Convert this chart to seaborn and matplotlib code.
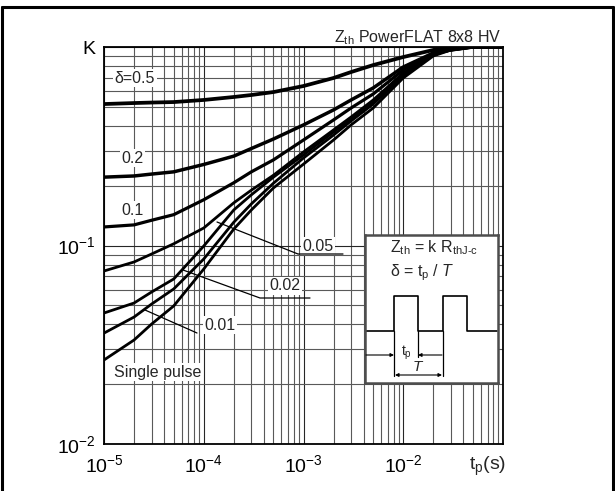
import numpy as np
import pandas as pd
import matplotlib.pyplot as plt
import matplotlib.ticker as mticker
from matplotlib.lines import Line2D
import seaborn as sns

# Thermal impedance curves (K vs pulse duration)
tp = [1e-5, 2e-5, 3e-5, 5e-5, 1e-4, 2e-4, 3e-4, 5e-4, 1e-3, 2e-3, 3e-3, 5e-3,
      1e-2, 2e-2, 3e-2, 5e-2, 1e-1]
k_05 = [0.516, 0.522, 0.525, 0.528, 0.541, 0.560, 0.573, 0.593, 0.636, 0.698, 0.748, 0.811,
        0.890, 0.966, 0.990, 1.0, 1.0]
k_02 = [0.221, 0.224, 0.229, 0.235, 0.256, 0.282, 0.308, 0.344, 0.405, 0.482, 0.541, 0.622,
        0.793, 0.933, 0.966, 1.0, 1.0]
k_01 = [0.124, 0.127, 0.134, 0.143, 0.170, 0.207, 0.235, 0.270, 0.340, 0.429, 0.493, 0.580,
        0.766, 0.933, 0.966, 1.0, 1.0]
k_005 = [0.0744, 0.0826, 0.0906, 0.102, 0.1225, 0.164, 0.190, 0.226, 0.296, 0.382, 0.444, 0.541,
         0.740, 0.922, 0.977, 1.0, 1.0]
k_002 = [0.0457, 0.0513, 0.0583, 0.0678, 0.0994, 0.151, 0.180, 0.221, 0.286, 0.373, 0.434, 0.529,
         0.731, 0.922, 0.971, 1.0, 1.0]
k_001 = [0.0362, 0.0436, 0.0507, 0.0604, 0.0855, 0.131, 0.162, 0.206, 0.276, 0.360, 0.424, 0.516,
         0.714, 0.912, 0.966, 1.0, 1.0]
k_single = [0.0265, 0.0334, 0.0402, 0.0496, 0.0761, 0.121, 0.151, 0.195, 0.257, 0.340, 0.405, 0.493,
            0.698, 0.901, 0.966, 1.0, 1.0]

curves = {
    '0.5': (k_05, 2.7),
    '0.2': (k_02, 2.5),
    '0.1': (k_01, 2.3),
    '0.05': (k_005, 2.0),
    '0.02': (k_002, 2.0),
    '0.01': (k_001, 2.0),
    'single': (k_single, 2.0),
}

sns.set_theme(style='white')
plt.rcParams['font.family'] = ['Liberation Sans', 'DejaVu Sans']
plt.rcParams['mathtext.fontset'] = 'custom'
plt.rcParams['mathtext.rm'] = 'Liberation Sans'
plt.rcParams['mathtext.it'] = 'Liberation Sans:italic'
plt.rcParams['mathtext.bf'] = 'Liberation Sans:bold'

W, H = 615, 491
fig = plt.figure(figsize=(W / 100, H / 100), dpi=100)
ax = fig.add_axes([104 / W, 1 - 444 / H, 399 / W, 397 / H])

for name, (vals, lw) in curves.items():
    df = pd.DataFrame({'t': tp, 'K': vals})
    sns.lineplot(data=df, x='t', y='K', ax=ax, color='black', linewidth=lw)

ax.set_xscale('log')
ax.set_yscale('log')
ax.set_xlim(1e-5, 1e-1)
ax.set_ylim(1e-2, 1)

ax.xaxis.set_minor_locator(mticker.LogLocator(base=10, subs=np.arange(2, 10)))
ax.yaxis.set_minor_locator(mticker.LogLocator(base=10, subs=np.arange(2, 10)))
ax.xaxis.set_minor_formatter(mticker.NullFormatter())
ax.yaxis.set_minor_formatter(mticker.NullFormatter())
ax.grid(True, which='major', color='0.15', linewidth=0.8)
ax.grid(True, which='minor', color='0.35', linewidth=0.8)
ax.set_axisbelow(True)

ax.set_xticks([1e-5, 1e-4, 1e-3, 1e-2])
ax.set_xticklabels([r'$10^{-5}$', r'$10^{-4}$', r'$10^{-3}$', r'$10^{-2}$'])
ax.set_yticks([1e-2, 1e-1, 1])
ax.set_yticklabels([r'$10^{-2}$', r'$10^{-1}$', 'K'])
ax.tick_params(axis='both', which='both', length=0, labelsize=14, colors='black')
ax.tick_params(axis='x', pad=7)
ax.tick_params(axis='y', pad=6)
ax.set_xlabel('')
ax.set_ylabel('')
for sp in ax.spines.values():
    sp.set_color('black')
    sp.set_linewidth(1.3)


def fx(px):
    return (px - 104) / 399


def fy(py):
    return (444 - py) / 397


box = dict(facecolor='white', edgecolor='none', pad=1.0)
lab = dict(transform=ax.transAxes, fontsize=11.5, ha='center', va='center', bbox=box, zorder=5)
ax.text(fx(135), fy(78), 'δ=0.5', **lab)
ax.text(fx(132), fy(158), '0.2', **lab)
ax.text(fx(133), fy(210), '0.1', **lab)
ax.text(fx(318), fy(246), '0.05', **lab)
ax.text(fx(285), fy(286), '0.02', **lab)
ax.text(fx(220), fy(325), '0.01', **lab)
ax.text(fx(158), fy(372), 'Single pulse', **lab)

# leader lines
lead = dict(transform=ax.transAxes, color='black', linewidth=0.9, zorder=6)
ax.plot([fx(217), fx(298), fx(343)], [fy(222), fy(254), fy(254)], **lead)
ax.plot([fx(183), fx(260), fx(310)], [fy(270), fy(298), fy(298)], **lead)
ax.plot([fx(145), fx(197)], [fy(310), fy(333)], **lead)

ax.text(fx(501), fy(38), r'Z$_{\rm th}$ PowerFLAT 8x8 HV', transform=ax.transAxes,
        fontsize=11.5, ha='right', va='center', clip_on=False)
ax.text(fx(506), fy(466), r't$_{\rm p}$(s)', transform=ax.transAxes,
        fontsize=14, ha='right', va='center', clip_on=False)

# inset with the pulse definition
iax = fig.add_axes([365 / W, 1 - 383 / H, 133 / W, 148 / H])
iax.set_xlim(365, 498)
iax.set_ylim(383, 235)
iax.set_xticks([])
iax.set_yticks([])
iax.set_facecolor('white')
for sp in iax.spines.values():
    sp.set_color('0.3')
    sp.set_linewidth(1.8)
iax.text(390, 248, r'Z$_{\rm th}$ = k R$_{\rm thJ\text{-}c}$', fontsize=11.5, ha='left', va='center')
iax.text(390, 273, r'δ = t$_{\rm p}$ / $\mathit{T}$', fontsize=11.5, ha='left', va='center')

pulse_x = [365, 394, 394, 418, 418, 443, 443, 467, 467, 497]
pulse_y = [331, 331, 296, 296, 331, 331, 296, 296, 331, 331]
iax.plot(pulse_x, pulse_y, color='black', linewidth=1.2)
iax.plot([394, 394], [331, 376], color='black', linewidth=0.9)
iax.plot([418, 418], [331, 357], color='black', linewidth=0.9)
iax.plot([443, 443], [331, 376], color='black', linewidth=0.9)
arr = dict(arrowstyle='-|>', color='black', linewidth=0.8, mutation_scale=5, shrinkA=0, shrinkB=0)
iax.annotate('', xy=(394, 355), xytext=(366, 355), arrowprops=arr)
iax.annotate('', xy=(418, 355), xytext=(442, 355), arrowprops=arr)
iax.annotate('', xy=(395, 375), xytext=(442, 375),
             arrowprops=dict(arrowstyle='<|-|>', color='black', linewidth=0.8,
                             mutation_scale=5, shrinkA=0, shrinkB=0))
iax.text(406, 353, r't$_{\rm p}$', fontsize=10, ha='center', va='center')
iax.text(418, 367, r'$\mathit{T}$', fontsize=11, ha='center', va='center')

# outer frame of the figure
for xs, ys in [([2, 2], [491, 7]), ([2, 613], [7, 7]), ([613, 613], [7, 491])]:
    fig.add_artist(Line2D([x / W for x in xs], [1 - y / H for y in ys],
                          color='black', linewidth=2.2))

fig.savefig('out.png', dpi=100)
